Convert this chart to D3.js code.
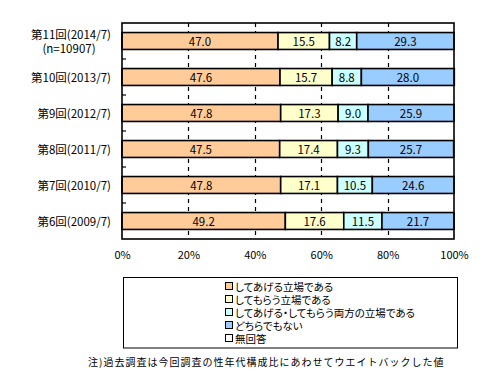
<!DOCTYPE html>
<html><head><meta charset="utf-8">
<script src="https://cdn.jsdelivr.net/npm/d3@7"></script>
<style>
body{margin:0;background:#fff;}
svg{display:block;}
text{font-family:"Noto Sans CJK JP","Noto Sans",sans-serif;fill:#000;}
.palt{font-feature-settings:"palt" 1;}
</style></head><body>
<svg id="c" width="483" height="387"></svg>
<script>
const categories = ["第11回(2014/7)","第10回(2013/7)","第9回(2012/7)","第8回(2011/7)","第7回(2010/7)","第6回(2009/7)"];
const subLabels = ["(n=10907)","","","","",""];
const seriesNames = ["してあげる立場である","してもらう立場である","してあげる・してもらう両方の立場である","どちらでもない","無回答"];
const seriesColors = ["#FFCC99","#FFFFCC","#CCFFFF","#99CCFF","#FFFFFF"];
const giveVals = [47.0,47.6,47.8,47.5,47.8,49.2];
const receiveVals = [15.5,15.7,17.3,17.4,17.1,17.6];
const bothVals = [8.2,8.8,9.0,9.3,10.5,11.5];
const neitherVals = [29.3,28.0,25.9,25.7,24.6,21.7];
const noAnswerVals = [0,0,0,0,0,0];
const tickValues = [0,20,40,60,80,100];
const footnote = "注)過去調査は今回調査の性年代構成比にあわせてウエイトバックした値";

const series = [giveVals,receiveVals,bothVals,neitherVals,noAnswerVals];
const svg = d3.select("#c");
const L=122,R=454,T=23,B=239;
const x = d3.scaleLinear().domain([0,100]).range([L,R]);
const y = d3.scaleBand().domain(categories).range([T,B]).paddingInner(0.53).paddingOuter(0.265);

// dashed gridlines
svg.append("g").selectAll("line").data(tickValues.filter(v=>v>0&&v<100)).join("line")
  .attr("x1",d=>Math.round(x(d))+0.5).attr("x2",d=>Math.round(x(d))+0.5)
  .attr("y1",T).attr("y2",B).attr("stroke","#000").attr("stroke-width",1.2).attr("stroke-dasharray","4,4");

// left boundary ticks
const step = y.step();
svg.append("g").selectAll("line").data(d3.range(1,categories.length)).join("line")
  .attr("x1",L).attr("x2",L+4).attr("y1",d=>T+d*step).attr("y2",d=>T+d*step)
  .attr("stroke","#000").attr("stroke-width",1.2);

// stacked bars
const rows = categories.map((c,i)=>{let acc=0;return series.map((s,k)=>{const v=s[i];const o={cat:c,k,v,x0:acc,x1:acc+v};acc+=v;return o;});});
const g = svg.append("g");
rows.forEach(r=>{
  const segs = r.filter(d=>d.v>0);
  g.selectAll(null).data(segs).join("rect")
    .attr("x",d=>x(d.x0)).attr("width",d=>x(d.x1)-x(d.x0))
    .attr("y",d=>y(d.cat)).attr("height",y.bandwidth())
    .attr("fill",d=>seriesColors[d.k]).attr("stroke","#000").attr("stroke-width",1.6);
  g.selectAll(null).data(segs).join("text")
    .attr("x",d=>(x(d.x0)+x(d.x1))/2).attr("y",d=>y(d.cat)+y.bandwidth()/2)
    .attr("text-anchor","middle").attr("dominant-baseline","central")
    .style("font-size","11.5px").text(d=>d.v.toFixed(1));
});

// frame
svg.append("rect").attr("x",L).attr("y",T).attr("width",R-L).attr("height",B-T)
  .attr("fill","none").attr("stroke","#000").attr("stroke-width",1.6);

// category labels
categories.forEach((c,i)=>{
  const cy = y(c)+y.bandwidth()/2;
  if(subLabels[i]){
    svg.append("text").attr("class","palt").attr("x",111).attr("y",cy-7).attr("text-anchor","end")
      .attr("dominant-baseline","central").style("font-size","11.5px").text(c);
    svg.append("text").attr("class","palt").attr("x",69).attr("y",cy+7).attr("text-anchor","middle")
      .attr("dominant-baseline","central").style("font-size","11.5px").text(subLabels[i]);
  } else {
    svg.append("text").attr("class","palt").attr("x",111).attr("y",cy).attr("text-anchor","end")
      .attr("dominant-baseline","central").style("font-size","11.5px").text(c);
  }
});

// x axis labels
const ax = svg.append("g").attr("transform",`translate(0,${B})`)
  .call(d3.axisBottom(x).tickValues(tickValues).tickSize(0).tickPadding(12).tickFormat(d=>d+"%"));
ax.select(".domain").remove();
ax.selectAll("text").style("font-size","11px").style("font-family",'"Noto Sans CJK JP",sans-serif');

// legend
svg.append("rect").attr("x",123.5).attr("y",277.5).attr("width",334).attr("height",70.5)
  .attr("fill","#fff").attr("stroke","#000").attr("stroke-width",1);
const lg = svg.append("g").selectAll("g").data(seriesNames).join("g")
  .attr("transform",(d,i)=>`translate(225,${286+i*13})`);
lg.append("rect").attr("x",0.5).attr("y",-3.5).attr("width",7).attr("height",7)
  .attr("fill",(d,i)=>seriesColors[i]).attr("stroke","#000").attr("stroke-width",1);
lg.append("text").attr("class","palt").attr("x",10).attr("y",0).attr("dominant-baseline","central")
  .style("font-size","10.5px").text(d=>d);

// footnote
svg.append("text").attr("x",88).attr("y",361).attr("dominant-baseline","central")
  .style("font-size","10px").style("letter-spacing","1px").text(footnote);
</script>
</body></html>
